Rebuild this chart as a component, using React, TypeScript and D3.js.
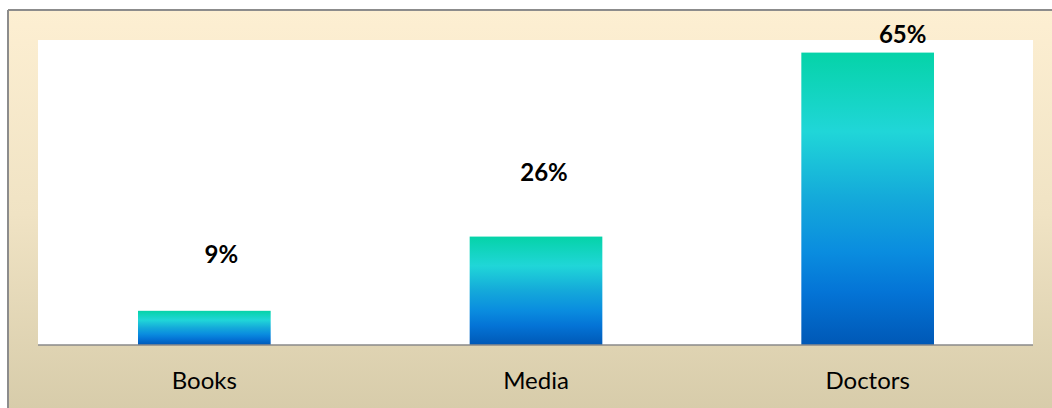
import React from "react";
import * as d3 from "d3";

const categories = ["Books", "Media", "Doctors"];
const barValues = [7.6, 24.1, 65];
const valueLabels = ["9%", "26%", "65%"];

const W = 1052;
const H = 408;
const plot = { left: 38, right: 1033, top: 40, bottom: 345 };
// manual label placement offsets (layout only): dx from bar centre, gap above bar top
const labelDx = [17, 8, 35];
const labelGap = [48, 56, 10];

export default function App() {
  const x = d3
    .scaleBand<string>()
    .domain(categories)
    .range([plot.left + 0.5, plot.right + 0.5])
    .paddingInner(0.6)
    .paddingOuter(0.3);
  const y = d3.scaleLinear().domain([0, 67.8]).range([plot.bottom, plot.top]);

  return (
    <svg
      width={W}
      height={H}
      style={{ position: "absolute", left: 0, top: 0, display: "block" }}
    >
      <defs>
        <linearGradient id="bg" x1="0" y1="0" x2="0" y2="1">
          <stop offset="0" stopColor="#fdefd2" />
          <stop offset="0.5" stopColor="#f0e3c4" />
          <stop offset="1" stopColor="#d6cba9" />
        </linearGradient>
        <linearGradient id="barGrad" x1="0" y1="0" x2="0" y2="1">
          <stop offset="0" stopColor="#05d3a8" />
          <stop offset="0.27" stopColor="#20d6d8" />
          <stop offset="0.5" stopColor="#14a9da" />
          <stop offset="0.68" stopColor="#0a8ddf" />
          <stop offset="0.82" stopColor="#0474d6" />
          <stop offset="1" stopColor="#0058b6" />
        </linearGradient>
      </defs>
      <rect x={8} y={10} width={W} height={H} fill="url(#bg)" />
      <line x1={8} y1={10} x2={W} y2={10} stroke="#8c8c8c" strokeWidth={2} />
      <line x1={8} y1={10} x2={8} y2={H} stroke="#8c8c8c" strokeWidth={2} />
      <rect
        x={plot.left}
        y={plot.top}
        width={plot.right - plot.left}
        height={plot.bottom - plot.top}
        fill="#ffffff"
      />
      {categories.map((c, i) => {
        const bx = x(c) as number;
        const by = y(barValues[i]);
        return (
          <rect
            key={c}
            x={bx}
            y={by}
            width={x.bandwidth()}
            height={y(0) - by}
            fill="url(#barGrad)"
          />
        );
      })}
      <line
        x1={plot.left}
        x2={plot.right}
        y1={plot.bottom}
        y2={plot.bottom}
        stroke="#8a8a8a"
        strokeWidth={1.5}
      />
      {categories.map((c, i) => {
        const cx = (x(c) as number) + x.bandwidth() / 2;
        return (
          <text
            key={"v" + c}
            x={cx + labelDx[i]}
            y={y(barValues[i]) - labelGap[i]}
            textAnchor="middle"
            fontFamily="Lato, 'Open Sans', sans-serif"
            fontWeight="bold"
            fontSize={24}
            fill="#000"
          >
            {valueLabels[i]}
          </text>
        );
      })}
      {categories.map((c) => {
        const cx = (x(c) as number) + x.bandwidth() / 2;
        return (
          <text
            key={"c" + c}
            x={cx}
            y={389}
            textAnchor="middle"
            fontFamily="Lato, 'Open Sans', sans-serif"
            fontSize={24}
            fill="#000"
          >
            {c}
          </text>
        );
      })}
    </svg>
  );
}
